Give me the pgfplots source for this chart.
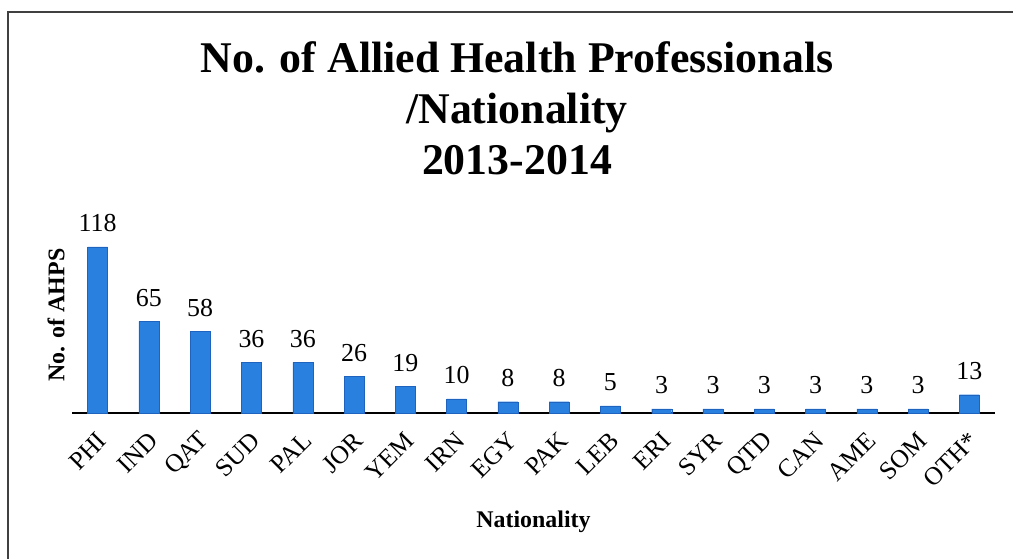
\documentclass[border=0pt]{standalone}
\usepackage{fontspec}
\setmainfont{Liberation Serif}
\usepackage{pgfplots}
\pgfplotsset{compat=1.18}
\definecolor{barblue}{RGB}{42,128,222}
\definecolor{baredge}{RGB}{30,100,190}
\begin{document}
\begin{tikzpicture}
\useasboundingbox (0,0) rectangle (1013bp,559bp);
\draw[line width=1.6bp, black!75] (8bp,0) -- (8bp,547bp) -- (1013bp,547bp);
\node[anchor=base, font=\bfseries\fontsize{44}{51}\selectfont] at (517bp,486bp) {No. of Allied Health Professionals};
\node[anchor=base, font=\bfseries\fontsize{44}{51}\selectfont] at (517bp,435bp) {/Nationality};
\node[anchor=base, font=\bfseries\fontsize{44}{51}\selectfont] at (517bp,384bp) {2013-2014};
\begin{axis}[
  at={(72bp,146bp)}, anchor=south west,
  scale only axis, width=923bp, height=183bp,
  xmin=-0.5, xmax=17.5, ymin=0, ymax=130,
  axis x line*=bottom, axis y line*=left,
  x axis line style={line width=1.6bp, black},
  y axis line style={draw=none},
  ytick=\empty,
  xtick=data,
  xticklabels={PHI,IND,QAT,SUD,PAL,JOR,YEM,IRN,EGY,PAK,LEB,ERI,SYR,QTD,CAN,AME,SOM,OTH*},
  major tick length=0pt,
  xticklabel style={font=\fontsize{25.5}{27}\selectfont, inner sep=2bp, xshift=6bp, yshift=-22bp, rotate=45, anchor=east},
  xlabel={Nationality},
  ylabel={No. of AHPS},
  every axis x label/.style={at={(axis description cs:0.5,-0.628)}, anchor=base, font=\bfseries\fontsize{24}{26}\selectfont},
  every axis y label/.style={at={(axis description cs:-0.0173,0.536)}, rotate=90, anchor=center, font=\bfseries\fontsize{24}{26}\selectfont},
  /pgf/number format/assume math mode=true,
  nodes near coords,
  every node near coord/.append style={anchor=base, yshift=15bp, font=\fontsize{26}{28}\selectfont},
  clip=false,
]
\addplot[ybar, bar width=20bp, fill=barblue, draw=baredge] coordinates {
(0,118) (1,65) (2,58) (3,36) (4,36) (5,26) (6,19) (7,10) (8,8) (9,8)
(10,5) (11,3) (12,3) (13,3) (14,3) (15,3) (16,3) (17,13)};
\end{axis}
\end{tikzpicture}
\end{document}
